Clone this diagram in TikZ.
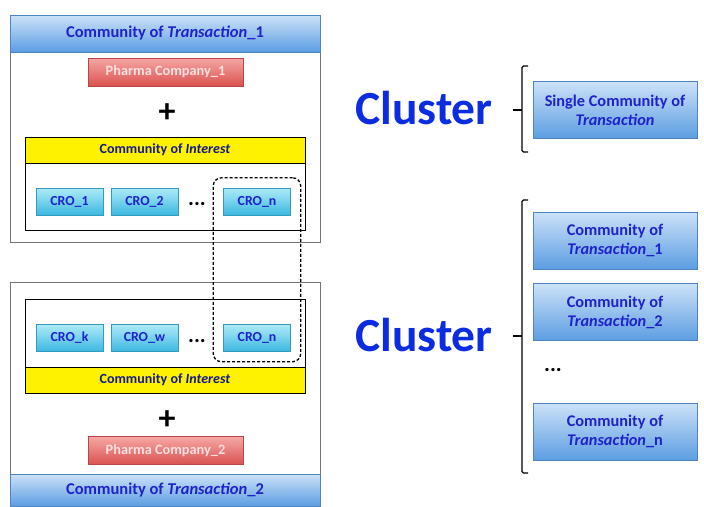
\documentclass[tikz,border=0pt]{standalone}
\usepackage{fontspec}
\setmainfont{Carlito}
\usetikzlibrary{fit}

\definecolor{ctlight}{HTML}{CCE2F8}
\definecolor{ctdark}{HTML}{5C9DE2}
\definecolor{cttext}{HTML}{1E22C8}
\definecolor{crolight}{HTML}{AEEBF8}
\definecolor{crodark}{HTML}{3CB7E0}
\definecolor{phlight}{HTML}{F5A8A5}
\definecolor{phdark}{HTML}{DA5250}
\definecolor{clblue}{HTML}{0B2CE0}

\tikzset{
  ctbox/.style={top color=ctlight, bottom color=ctdark, draw=ctdark!85!black, line width=0.4pt,
    text=cttext, font=\bfseries\fontsize{16.5}{18}\selectfont, inner sep=0pt,
    minimum width=310pt, minimum height=37pt},
  rbox/.style={ctbox, align=center, font=\bfseries\fontsize{16.3}{19}\selectfont,
    minimum width=164pt, minimum height=57pt},
  crobox/.style={top color=crolight, bottom color=crodark, draw=crodark!85!black, line width=0.4pt,
    text=cttext, font=\bfseries\fontsize{13.8}{15}\selectfont, inner sep=0pt,
    minimum width=67pt, minimum height=27pt},
  phbox/.style={top color=phlight, bottom color=phdark, draw=phdark!85!black, line width=0.4pt,
    text=white!88!red, font=\bfseries\fontsize{14.3}{16}\selectfont, inner sep=0pt,
    minimum width=155pt, minimum height=28pt},
  coibox/.style={fill=yellow, draw=black, line width=0.9pt, text=cttext!70!black,
    font=\bfseries\fontsize{14}{16}\selectfont, inner sep=0pt,
    minimum width=280pt, minimum height=26pt},
  cluster/.style={text=clblue, font=\bfseries\fontsize{47.5}{50}\selectfont},
  plussign/.style={font=\bfseries\fontsize{34}{34}\selectfont},
  dotsign/.style={font=\bfseries\fontsize{22}{22}\selectfont},
  bracket/.style={line width=1.2pt, rounded corners=1.5pt},
}

\begin{document}
\begin{tikzpicture}[x=1pt, y=-1pt]
		%%%%% START %%%%%
		\useasboundingbox (0,0) rectangle (704,506);
		
		% first community of transaction
		\draw[line width=0.6pt, color=black!55] (10, 15) rectangle (320, 242);
		\node[ctbox] (ctone) at (165, 33.5) {Community of \textit{Transaction}\_1};
		\node[phbox] (phone) at (165.5, 72) {Pharma Company\_1};
		\node[plussign] (plusone) at (167, 113) {+};
		\draw[line width=0.9pt] (25, 163) rectangle (305, 230);
		\node[coibox] (coione) at (165, 150) {Community of \textit{Interest}};
		\node[crobox] (croone) at (69.5, 201.5) {CRO\_1};
		\node[crobox] (crotwo) at (144.5, 201.5) {CRO\_2};
		\node[dotsign] (dotsone) at (197, 204) {...};
		\node[crobox] (cronone) at (257, 201.5) {CRO\_n};
		
		% second community of transaction
		\draw[line width=0.6pt, color=black!55] (10, 282) rectangle (320, 506);
		\draw[line width=0.9pt] (25, 299) rectangle (305, 367);
		\node[coibox] (coitwo) at (165, 380) {Community of \textit{Interest}};
		\node[crobox] (crok) at (69.5, 338) {CRO\_k};
		\node[crobox] (crow) at (144.5, 338) {CRO\_w};
		\node[dotsign] (dotstwo) at (197, 341) {...};
		\node[crobox] (crontwo) at (257, 338) {CRO\_n};
		\node[plussign] (plustwo) at (167, 420) {+};
		\node[phbox] (phtwo) at (165.5, 450.5) {Pharma Company\_2};
		\node[ctbox, minimum height=32pt] (cttwo) at (165, 490) {Community of \textit{Transaction}\_2};
		
		% shared CRO
		\node[draw, dash pattern=on 3pt off 2pt, rounded corners=8pt, line width=1.3pt, inner sep=10pt,
		  fit=(cronone)(crontwo)] (shared) {};
		
		% single cluster
		\node[cluster] (clusterone) at (424, 108) {Cluster};
		\coordinate (brtopone) at (528, 66);
		\coordinate (brbotone) at (528, 152);
		\coordinate (brtipone) at (513, 110);
		\draw[bracket] (brtopone) -- (522, 66) -- (522, 152) -- (brbotone);
		\draw[line width=1.2pt] (brtipone) -- (522, 110);
		\node[rbox] (single) at (615, 110) {Single Community of\\\textit{Transaction}};
		
		% cluster of many
		\node[cluster] (clustertwo) at (424, 335) {Cluster};
		\coordinate (brtoptwo) at (528, 200);
		\coordinate (brbottwo) at (528, 473);
		\coordinate (brtiptwo) at (513, 336);
		\draw[bracket] (brtoptwo) -- (522, 200) -- (522, 473) -- (brbottwo);
		\draw[line width=1.2pt] (brtiptwo) -- (522, 336);
		\node[rbox] (ctrone) at (615, 240.5) {Community of\\\textit{Transaction}\_1};
		\node[rbox] (ctrtwo) at (615, 312) {Community of\\\textit{Transaction}\_2};
		\node[dotsign] (dotsthree) at (553, 370) {...};
		\node[rbox] (ctrn) at (615, 431.5) {Community of\\\textit{Transaction}\_n};
		
		%%%%% END %%%%%
	\end{tikzpicture}
\end{document}
